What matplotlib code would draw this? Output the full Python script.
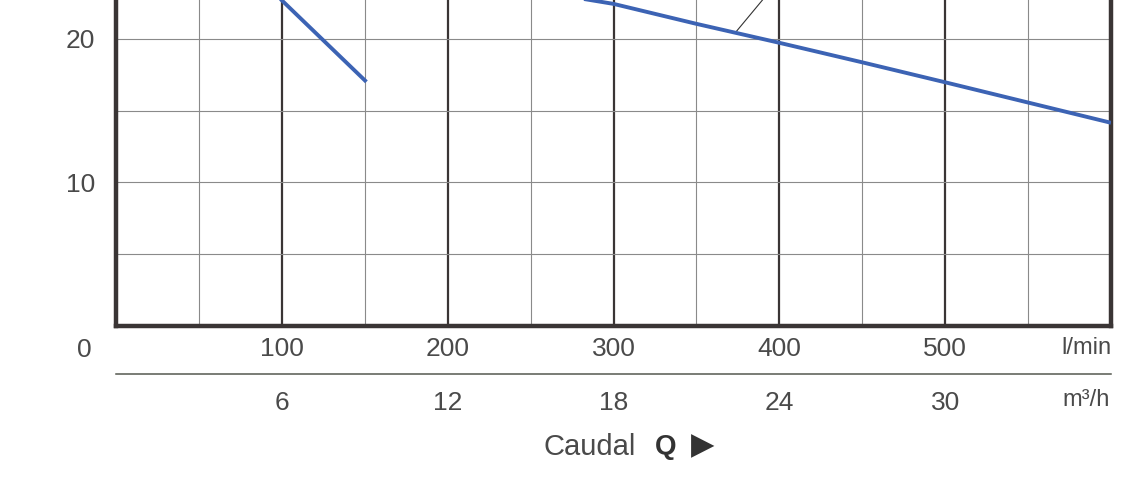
import matplotlib
matplotlib.use("Agg")
import matplotlib.pyplot as plt

plt.rcParams['font.family'] = ['Liberation Sans', 'DejaVu Sans']

# flow in l/min, head in m
curve_a_q = [98, 151]
curve_a_h = [22.9, 17.0]
curve_b_q = [278, 300, 350, 400, 450, 500, 550, 600]
curve_b_h = [22.85, 22.43, 21.04, 19.72, 18.36, 16.97, 15.56, 14.15]
leader_q = [374, 392]
leader_h = [20.5, 23.0]

lmin_ticks = [100, 200, 300, 400, 500]
lmin_minor = [50, 150, 250, 350, 450, 550]
m3h_ticks = [6, 12, 18, 24, 30]
head_ticks = [5, 10, 15, 20]
head_labels = ['', '10', '', '20']

dark = '#3a3535'
grey = '#8a8a8a'
text_c = '#4a4a4a'
blue = '#3c63b4'

fig = plt.figure(figsize=(11.36, 4.95), dpi=100)
fig.patch.set_facecolor('white')
ax = fig.add_axes([116 / 1136, 1 - 326 / 495, (1111 - 116) / 1136, 326 / 495])

ax.plot(curve_a_q, curve_a_h, color=blue, lw=2.8, solid_capstyle='butt', zorder=5)
ax.plot(curve_b_q, curve_b_h, color=blue, lw=2.8, solid_capstyle='butt', zorder=5)
ax.plot(leader_q, leader_h, color='#333333', lw=0.8, zorder=4)

ax.set_xlim(0, 600)
ax.set_ylim(0, 22.7)

ax.set_xticks(lmin_ticks)
ax.set_xticklabels([str(v) for v in lmin_ticks])
ax.set_xticks(lmin_minor, minor=True)
ax.set_yticks(head_ticks)
ax.set_yticklabels(head_labels)

ax.grid(True, which='major', axis='x', color=dark, lw=1.6)
ax.grid(True, which='minor', axis='x', color=grey, lw=0.8)
ax.grid(True, which='major', axis='y', color=grey, lw=0.8)
ax.set_axisbelow(True)

ax.tick_params(axis='x', which='both', length=0, pad=8, labelsize=19, labelcolor=text_c)
ax.tick_params(axis='y', length=0, pad=15, labelsize=19, labelcolor=text_c)

ax.spines['top'].set_visible(False)
for s in ['left', 'bottom', 'right']:
    ax.spines[s].set_color(dark)
    ax.spines[s].set_linewidth(3.2)

# second flow scale in m3/h
sec = ax.secondary_xaxis(-0.147, functions=(lambda q: q * 60 / 1000, lambda m: m * 1000 / 60))
sec.set_xticks(m3h_ticks)
sec.set_xticklabels([str(v) for v in m3h_ticks])
sec.tick_params(length=0, pad=12, labelsize=19, labelcolor=text_c)
sec.spines['bottom'].set_color('#55594f')
sec.spines['bottom'].set_linewidth(1.1)

fig.text(1086 / 1136, 1 - 348 / 495, 'l/min', ha='center', va='center', fontsize=17, color=text_c)
fig.text(1086 / 1136, 1 - 400 / 495, 'm³/h', ha='center', va='center', fontsize=17, color=text_c)
fig.text(84 / 1136, 1 - 350 / 495, '0', ha='center', va='center', fontsize=19, color=text_c)

fig.text(590 / 1136, 1 - 447 / 495, 'Caudal', ha='center', va='center', fontsize=21, color=text_c)
fig.text(666 / 1136, 1 - 447 / 495, 'Q', ha='center', va='center', fontsize=20,
         fontweight='bold', color='#333333')
fig.text(703 / 1136, 1 - 446 / 495, '▶', ha='center', va='center', fontsize=22,
         color='#333333', family=['DejaVu Sans'])

fig.savefig('out.png', dpi=100, facecolor='white')
